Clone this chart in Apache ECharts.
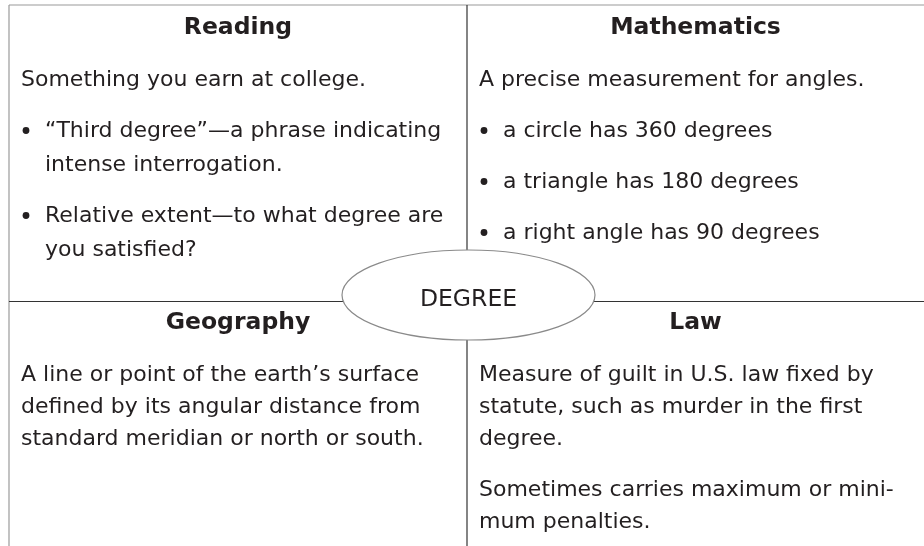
<!DOCTYPE html>
<html>
<head>
<meta charset="utf-8">
<script src="https://cdn.jsdelivr.net/npm/echarts@6/dist/echarts.min.js"></script>
<style>
  html, body { margin: 0; padding: 0; background: #fff; }
  #chart { width: 924px; height: 546px; }
</style>
</head>
<body>
<div id="chart"></div>
<script>
// content of the four quadrants
const headers = ["Reading", "Mathematics", "Geography", "Law"];
const centerWord = "DEGREE";

const readingText = [
  { bullet: false, lines: ["Something you earn at college."] },
  { bullet: true, lines: ["\u201cThird degree\u201d\u2014a phrase indicating", "intense interrogation."] },
  { bullet: true, lines: ["Relative extent\u2014to what degree are", "you satisfied?"] }
];
const mathText = [
  { bullet: false, lines: ["A precise measurement for angles."] },
  { bullet: true, lines: ["a circle has 360 degrees"] },
  { bullet: true, lines: ["a triangle has 180 degrees"] },
  { bullet: true, lines: ["a right angle has 90 degrees"] }
];
const geographyText = [
  { bullet: false, lines: ["A line or point of the earth\u2019s surface", "defined by its angular distance from", "standard meridian or north or south."] }
];
const lawText = [
  { bullet: false, lines: ["Measure of guilt in U.S. law fixed by", "statute, such as murder in the first", "degree."] },
  { bullet: false, lines: ["Sometimes carries maximum or mini-", "mum penalties."] }
];

// layout
const W = 924, H = 546;
const frameL = 9, frameT = 5, midX = 467, midY = 301.5;
const ell = { cx: 468.5, cy: 295, rx: 126.5, ry: 45 };
const textColor = "#231f20";
const bodyFont = "22px 'DejaVu Sans'";
const headFont = "bold 23.5px 'DejaVu Sans'";

const quads = [
  { head: headers[0], paras: readingText, x0: frameL, x1: midX, headY: 28, firstY: 80, lineStep: 34, paraStep: 51 },
  { head: headers[1], paras: mathText, x0: midX, x1: W, headY: 28, firstY: 80, lineStep: 34, paraStep: 51 },
  { head: headers[2], paras: geographyText, x0: frameL, x1: midX, headY: 323, firstY: 375, lineStep: 32, paraStep: 51 },
  { head: headers[3], paras: lawText, x0: midX, x1: W, headY: 323, firstY: 375, lineStep: 32, paraStep: 51 }
];

const elements = [];

function addLine(x1, y1, x2, y2, color) {
  elements.push({
    type: "line",
    shape: { x1: x1, y1: y1, x2: x2, y2: y2 },
    style: { stroke: color, lineWidth: 1.2 }
  });
}

// frame
addLine(frameL, frameT, W, frameT, "#9a9a9a");
addLine(frameL, frameT, frameL, H, "#9a9a9a");
// dividers
addLine(midX, frameT, midX, ell.cy - ell.ry, "#333");
addLine(midX, ell.cy + ell.ry, midX, H, "#333");
addLine(frameL, midY, ell.cx - ell.rx + 1, midY, "#333");
addLine(ell.cx + ell.rx - 1, midY, W, midY, "#333");

quads.forEach(function (q) {
  elements.push({
    type: "text",
    style: {
      text: q.head, x: (q.x0 + q.x1) / 2, y: q.headY,
      font: headFont, fill: textColor, align: "center", verticalAlign: "middle"
    }
  });
  let y = q.firstY;
  q.paras.forEach(function (p, pi) {
    if (pi > 0) y += q.paraStep;
    p.lines.forEach(function (t, li) {
      if (li > 0) y += q.lineStep;
      const tx = q.x0 + (p.bullet ? 36 : 12);
      if (p.bullet && li === 0) {
        elements.push({
          type: "circle",
          shape: { cx: q.x0 + 17, cy: y - 0.5, r: 3.4 },
          style: { fill: textColor }
        });
      }
      elements.push({
        type: "text",
        style: {
          text: t, x: tx, y: y,
          font: bodyFont, fill: textColor, align: "left", verticalAlign: "middle"
        }
      });
    });
  });
});

// central ellipse
elements.push({
  type: "ellipse",
  shape: { cx: ell.cx, cy: ell.cy, rx: ell.rx, ry: ell.ry },
  style: { fill: "#fff", stroke: "#8a8a8a", lineWidth: 1.2 }
});
elements.push({
  type: "text",
  style: {
    text: centerWord, x: ell.cx, y: ell.cy + 5,
    font: "23.5px 'DejaVu Sans'", fill: textColor, align: "center", verticalAlign: "middle"
  }
});

const chart = echarts.init(document.getElementById("chart"));
chart.setOption({
  animation: false,
  graphic: { elements: elements }
});
</script>
</body>
</html>
